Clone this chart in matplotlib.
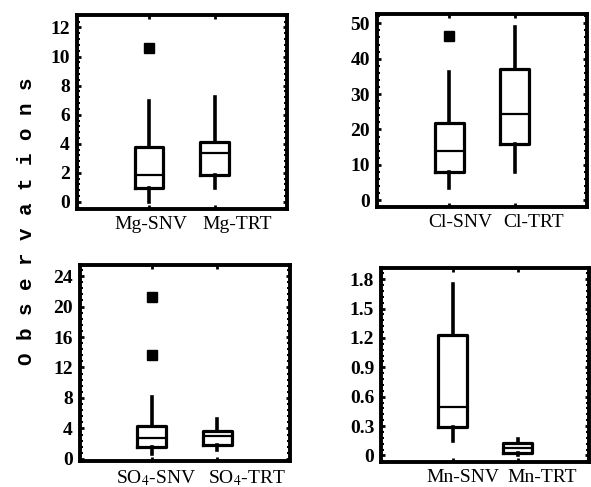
import matplotlib
matplotlib.use("Agg")
import matplotlib.pyplot as plt
from matplotlib.ticker import AutoMinorLocator, FuncFormatter

plt.rcParams['mathtext.fontset'] = 'stix'

# box statistics: (whislo, q1, med, q3, whishi)
mg_labels = ['Mg-SNV', 'Mg-TRT']
mg_stats = [(0.0, 0.96, 1.87, 3.75, 6.95), (0.96, 1.87, 3.4, 4.1, 7.25)]
mg_fliers = [[10.6], []]

cl_labels = ['Cl-SNV', 'Cl-TRT']
cl_stats = [(3.6, 8.0, 14.0, 21.8, 36.3), (8.0, 16.0, 24.5, 37.2, 49.0)]
cl_fliers = [[46.3], []]

so4_labels = ['SO$_4$-SNV', 'SO$_4$-TRT']
so4_stats = [(0.6, 1.6, 2.7, 4.3, 8.1), (1.2, 1.85, 3.0, 3.7, 5.3)]
so4_fliers = [[21.2, 13.6], []]

mn_labels = ['Mn-SNV', 'Mn-TRT']
mn_stats = [(0.15, 0.29, 0.5, 1.23, 1.75), (0.0, 0.025, 0.075, 0.125, 0.17)]
mn_fliers = [[], []]

mg_ticks = [0, 2, 4, 6, 8, 10, 12]
cl_ticks = [0, 10, 20, 30, 40, 50]
so4_ticks = [0, 4, 8, 12, 16, 20, 24]
mn_ticks = [0, 0.3, 0.6, 0.9, 1.2, 1.5, 1.8]

panels = [
    # rect, labels, stats, fliers, ticks, ylim, label x
    ([0.130, 0.571, 0.355, 0.398], mg_labels, mg_stats, mg_fliers, mg_ticks, (-0.48, 12.85), [1.03, 2.35]),
    ([0.638, 0.575, 0.355, 0.396], cl_labels, cl_stats, cl_fliers, cl_ticks, (-1.9, 52.6), [1.17, 2.28]),
    ([0.135, 0.053, 0.355, 0.402], so4_labels, so4_stats, so4_fliers, so4_ticks, (-0.3, 25.4), [1.06, 2.45]),
    ([0.645, 0.051, 0.352, 0.398], mn_labels, mn_stats, mn_fliers, mn_ticks, (-0.068, 1.91), [1.15, 2.37]),
]

fig = plt.figure(figsize=(5.91, 4.87), dpi=100)

for rect, labels, stats, fliers, ticks, ylim, lab_x in panels:
    ax = fig.add_axes(rect)
    bxp_stats = []
    for lab, (lo, q1, med, q3, hi), fl in zip(labels, stats, fliers):
        bxp_stats.append({'label': lab, 'whislo': lo, 'q1': q1, 'med': med,
                          'q3': q3, 'whishi': hi, 'fliers': fl})
    ax.bxp(bxp_stats, positions=[1, 2], widths=0.44, showcaps=False,
           boxprops=dict(color='black', linewidth=2.3),
           whiskerprops=dict(color='black', linewidth=2.6),
           medianprops=dict(color='black', linewidth=1.6),
           flierprops=dict(marker='s', markerfacecolor='black',
                           markeredgecolor='black', markersize=7))
    ax.set_xlim(-0.1, 3.1)
    ax.set_ylim(*ylim)
    ax.set_yticks(ticks)
    ax.yaxis.set_major_formatter(FuncFormatter(lambda v, p: '%g' % v))
    ax.yaxis.set_minor_locator(AutoMinorLocator(5))
    ax.set_xticks([1, 2])
    ax.set_xticklabels(['', ''])
    ax.tick_params(axis='both', which='major', direction='in', length=3,
                   width=2, top=True, right=True)
    ax.tick_params(axis='y', which='minor', direction='in', length=2,
                   width=1.5, right=True)
    for t in ax.get_yticklabels():
        t.set_fontfamily('Liberation Serif')
        t.set_fontweight('bold')
        t.set_fontsize(14)
    ax.tick_params(axis='y', pad=5)
    for s in ax.spines.values():
        s.set_linewidth(2.8)
    for x, lab in zip(lab_x, labels):
        ax.text(x, -0.035, lab, transform=ax.get_xaxis_transform(),
                ha='center', va='top', fontsize=14,
                fontfamily='Liberation Serif')

fig.text(0.045, 0.545, 'O b s e r v a t i o n s', rotation=90,
         ha='center', va='center', fontsize=15, fontweight='bold',
         fontfamily='Liberation Mono')

fig.savefig('out.png', dpi=100)
